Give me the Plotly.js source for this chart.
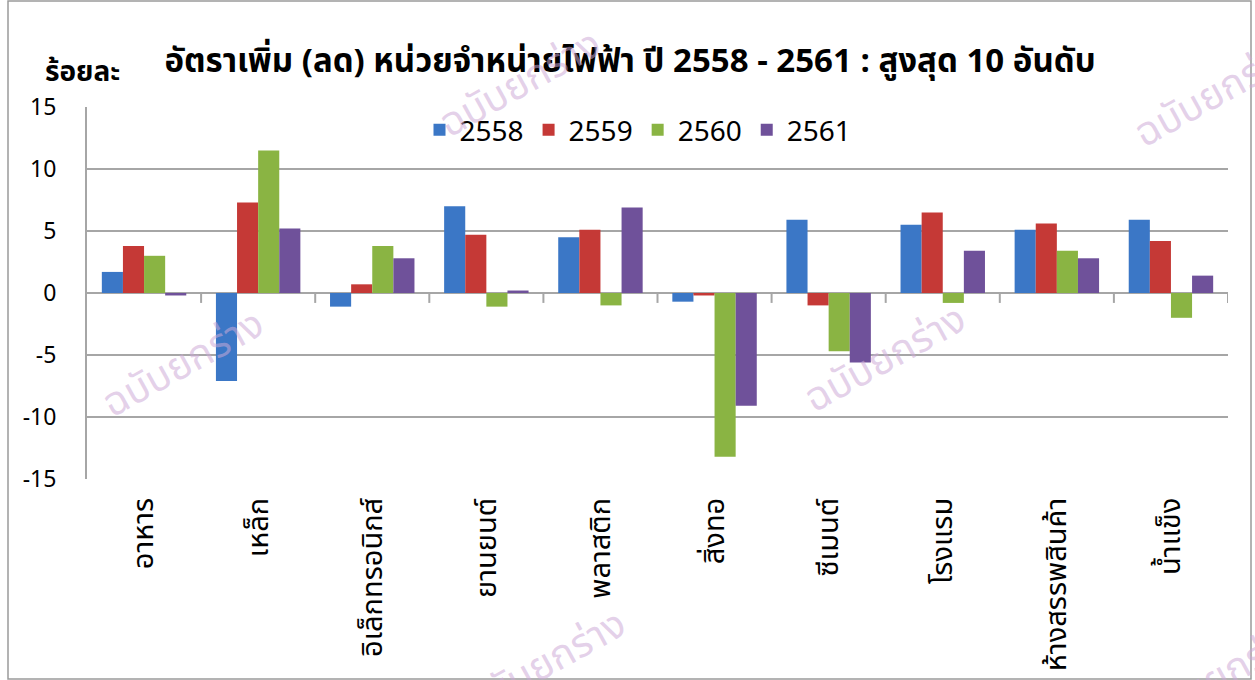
<!DOCTYPE html>
<html>
<head>
<meta charset="utf-8">
<script src="https://cdn.plot.ly/plotly-3.0.1.min.js"></script>
<style>html,body{margin:0;padding:0;background:#fff;}#chart{width:1255px;height:680px;}</style>
</head>
<body>
<div id="chart"></div>
<script>
const categories = ["อาหาร","เหล็ก","อิเล็กทรอนิกส์","ยานยนต์","พลาสติก","สิ่งทอ","ซีเมนต์","โรงแรม","ห้างสรรพสินค้า","น้ำแข็ง"];
const seriesNames = ["2558","2559","2560","2561"];
const v2558 = [1.7, -7.1, -1.1, 7.0, 4.5, -0.7, 5.9, 5.5, 5.1, 5.9];
const v2559 = [3.8, 7.3, 0.7, 4.7, 5.1, -0.2, -1.0, 6.5, 5.6, 4.2];
const v2560 = [3.0, 11.5, 3.8, -1.1, -1.0, -13.2, -4.7, -0.8, 3.4, -2.0];
const v2561 = [-0.2, 5.2, 2.8, 0.2, 6.9, -9.1, -5.6, 3.4, 2.8, 1.4];
const yTicks = [15, 10, 5, 0, -5, -10, -15];
const colors = ["#3b77c6", "#c53936", "#8ab443", "#6f519a"];

const FONT = "Noto Sans Thai, Tahoma, Noto Sans, DejaVu Sans, sans-serif";
const allValues = [v2558, v2559, v2560, v2561];
const data = allValues.map((vals, i) => ({
  type: "bar",
  name: seriesNames[i],
  x: categories.map((_, k) => k),
  y: vals,
  marker: { color: colors[i], line: { width: 0 } },
  hoverinfo: "x+y+name"
}));

// category boundary tick marks on the zero line
const shapes = [];
for (let k = 0; k < categories.length; k++) {
  shapes.push({ type: "line", xref: "x", yref: "y", x0: k + 0.5, x1: k + 0.5, y0: 0, y1: -0.8,
    line: { color: "#a6a6a6", width: 2 } });
}
// outer chart border
shapes.push({ type: "rect", xref: "paper", yref: "paper",
  x0: (8 - 87) / 1141, x1: (1251 - 87) / 1141, y0: (479 - 679) / 372, y1: (479 - 1) / 372,
  line: { color: "#9a9a9a", width: 1.5 }, fillcolor: "rgba(0,0,0,0)", layer: "below" });

const wm = (px, py) => ({
  xref: "paper", yref: "paper", x: (px - 87) / 1141, y: (479 - py) / 372,
  xanchor: "center", yanchor: "middle",
  text: "ฉบับยกร่าง", showarrow: false, textangle: -29,
  font: { family: FONT, size: 40, color: "rgba(205,170,215,0.55)" }
});

const layout = {
  width: 1255, height: 680,
  margin: { l: 87, r: 27, t: 107, b: 201 },
  paper_bgcolor: "#ffffff", plot_bgcolor: "#ffffff",
  barmode: "group", bargap: 0.26, bargroupgap: 0,
  showlegend: true,
  title: { text: "<b>อัตราเพิ่ม (ลด) หน่วยจำหน่ายไฟฟ้า ปี 2558 - 2561 : สูงสุด 10 อันดับ</b>",
    x: 630 / 1255, xanchor: "center", y: 1 - 60 / 680, yanchor: "middle",
    font: { family: FONT, size: 33, color: "#000" } },
  legend: { orientation: "h", x: (638 - 87) / 1141, xanchor: "center", y: (479 - 130) / 372, yanchor: "middle",
    font: { family: "Noto Sans, DejaVu Sans, sans-serif", size: 28, color: "#000" }, bgcolor: "rgba(0,0,0,0)", itemwidth: 30, traceorder: "normal" },
  xaxis: {
    tickmode: "array", tickvals: categories.map((_, k) => k), ticktext: categories,
    range: [-0.5, categories.length - 0.5],
    tickangle: -90, tickfont: { family: FONT, size: 29, color: "#000" },
    showgrid: false, zeroline: false, showline: false, ticks: "", ticklabelstandoff: 12
  },
  yaxis: {
    range: [-15, 15], tickmode: "array", tickvals: yTicks, ticktext: yTicks.map(String),
    tickfont: { family: "Noto Sans, DejaVu Sans, sans-serif", size: 23, color: "#000" },
    showgrid: true, gridcolor: "#a6a6a6", gridwidth: 2,
    zeroline: true, zerolinecolor: "#a6a6a6", zerolinewidth: 2,
    showline: true, linecolor: "#a6a6a6", linewidth: 2, ticks: "", ticklabelstandoff: 24
  },
  shapes: shapes,
  annotations: [
    { xref: "paper", yref: "paper", x: (82 - 87) / 1141, y: (479 - 72) / 372, xanchor: "center", yanchor: "middle",
      text: "<b>ร้อยละ</b>", showarrow: false, font: { family: FONT, size: 28, color: "#000" } },
    wm(520, 85), wm(1215, 95), wm(183, 365), wm(885, 360), wm(545, 665), wm(1220, 678)
  ]
};

Plotly.newPlot("chart", data, layout, { displayModeBar: false, staticPlot: true });
</script>
</body>
</html>
